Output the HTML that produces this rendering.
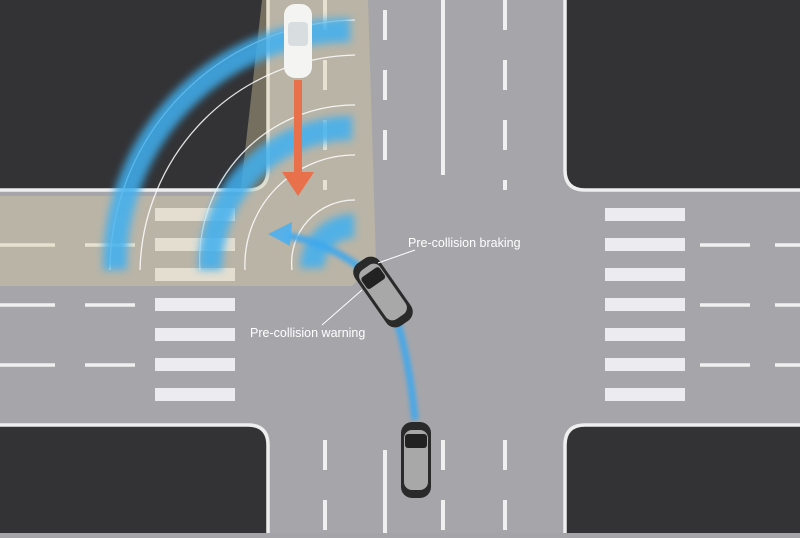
<!DOCTYPE html><html><head><style>body{margin:0;width:800px;height:533px;overflow:hidden;background:#a4a4a8}</style></head><body>
<svg width="800" height="533" xmlns="http://www.w3.org/2000/svg" font-family="Liberation Sans, sans-serif">
<defs>
<filter id="b"><feGaussianBlur stdDeviation="4"/></filter>
<filter id="b2"><feGaussianBlur stdDeviation="2"/></filter>
</defs>
<rect width="800" height="533" fill="#a6a6aa"/>
<!-- dark blocks -->
<path d="M0 0H268V170Q268 190 248 190H0Z" fill="#333335"/>
<path d="M565 0H800V190H585Q565 190 565 170Z" fill="#333335"/>
<path d="M0 425H248Q268 425 268 445V533H0Z" fill="#333335"/>
<path d="M800 425H585Q565 425 565 445V533H800Z" fill="#333335"/>
<g fill="none" stroke="#eee" stroke-width="3.5">
<path d="M268 0V170Q268 190 248 190H0"/>
<path d="M565 0V170Q565 190 585 190H800"/>
<path d="M0 425H248Q268 425 268 445V533"/>
<path d="M800 425H585Q565 425 565 445V533"/>
</g>
<!-- lane lines -->
<g stroke="#f0f0f0" stroke-width="4">
<line x1="443" y1="0" x2="443" y2="175"/>
<line x1="385" y1="450" x2="385" y2="533"/>
<line x1="325" y1="0" x2="325" y2="190" stroke-dasharray="30 30"/>
<line x1="385" y1="0" x2="385" y2="190" stroke-dasharray="30 30" stroke-dashoffset="-10"/>
<line x1="505" y1="0" x2="505" y2="190" stroke-dasharray="30 30"/>
<line x1="325" y1="440" x2="325" y2="533" stroke-dasharray="30 30"/>
<line x1="443" y1="440" x2="443" y2="533" stroke-dasharray="30 30"/>
<line x1="505" y1="440" x2="505" y2="533" stroke-dasharray="30 30"/>
<g stroke-width="3.5">
<line x1="0" y1="245" x2="55" y2="245"/><line x1="85" y1="245" x2="135" y2="245"/>
<line x1="0" y1="305" x2="55" y2="305"/><line x1="85" y1="305" x2="135" y2="305"/>
<line x1="0" y1="365" x2="55" y2="365"/><line x1="85" y1="365" x2="135" y2="365"/>
<line x1="700" y1="245" x2="750" y2="245"/><line x1="775" y1="245" x2="800" y2="245"/>
<line x1="700" y1="305" x2="750" y2="305"/><line x1="775" y1="305" x2="800" y2="305"/>
<line x1="700" y1="365" x2="750" y2="365"/><line x1="775" y1="365" x2="800" y2="365"/>
</g></g>
<g fill="#ececf0">
<rect x="155" y="208" width="80" height="13"/><rect x="155" y="238" width="80" height="13"/><rect x="155" y="268" width="80" height="13"/><rect x="155" y="298" width="80" height="13"/><rect x="155" y="328" width="80" height="13"/><rect x="155" y="358" width="80" height="13"/><rect x="155" y="388" width="80" height="13"/>
<rect x="605" y="208" width="80" height="13"/><rect x="605" y="238" width="80" height="13"/><rect x="605" y="268" width="80" height="13"/><rect x="605" y="298" width="80" height="13"/><rect x="605" y="328" width="80" height="13"/><rect x="605" y="358" width="80" height="13"/><rect x="605" y="388" width="80" height="13"/>
</g>
<!-- sensor region -->
<path d="M262 0H368L376 262L352 286H0V196H240Z" fill="#d8cba0" opacity="0.4"/>
<!-- arcs white -->
<g fill="none" stroke="#fff" stroke-width="1.3" opacity="0.85">
<path d="M110 270A250 250 0 0 1 355 20"/>
<path d="M140 270A220 220 0 0 1 355 55"/>
<path d="M200 270A155 155 0 0 1 355 105"/>
<path d="M245 270A110 110 0 0 1 355 155"/>
<path d="M292 270A63 63 0 0 1 355 200"/>
</g>
<!-- blue bands -->
<g fill="none" stroke="#3fb0f0" opacity="0.85" filter="url(#b)">
<path d="M115 270A235 235 0 0 1 350 30" stroke-width="24"/>
<path d="M210 270A142 142 0 0 1 352 128" stroke-width="24"/>
<path d="M312 268A42 42 0 0 1 354 226" stroke-width="24"/>
</g>
<!-- orange arrow -->
<rect x="294" y="80" width="8" height="95" fill="#e8704a"/>
<path d="M282 172H314L298 196Z" fill="#e8704a"/>
<!-- blue path -->
<path d="M415 420Q405 320 380 285Q340 245 285 235" fill="none" stroke="#3ea8ee" stroke-width="7" opacity="0.9" filter="url(#b2)"/>
<path d="M268 234L292 222L290 246Z" fill="#4cb0f0" opacity="0.9"/>
<!-- cars -->
<rect x="284" y="4" width="28" height="74" rx="11" fill="#f4f4f2"/>
<rect x="288" y="22" width="20" height="24" rx="4" fill="#d8dde0"/>
<g transform="translate(383,292) rotate(-35)">
<rect x="-15" y="-38" width="30" height="76" rx="11" fill="#2a2a2a"/>
<rect x="-12" y="-30" width="24" height="60" rx="8" fill="#a8a8a8"/>
<rect x="-11" y="-24" width="22" height="14" rx="3" fill="#222"/>
</g>
<g transform="translate(416,460)">
<rect x="-15" y="-38" width="30" height="76" rx="11" fill="#2a2a2a"/>
<rect x="-12" y="-30" width="24" height="60" rx="8" fill="#a8a8a8"/>
<rect x="-11" y="-26" width="22" height="14" rx="3" fill="#222"/>
</g>
<!-- labels -->
<g stroke="#fff" stroke-width="1"><line x1="415" y1="250" x2="378" y2="263"/><line x1="322" y1="325" x2="362" y2="290"/></g>
<text x="408" y="247" fill="#fff" font-size="12.5">Pre-collision braking</text>
<text x="250" y="337" fill="#fff" font-size="12.5">Pre-collision warning</text>
</svg>
</body></html>
